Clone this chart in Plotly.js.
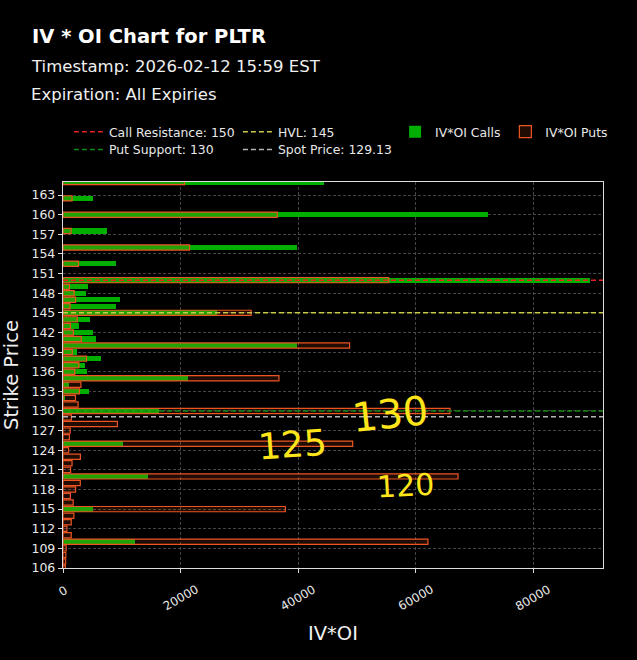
<!DOCTYPE html>
<html>
<head>
<meta charset="utf-8">
<script src="https://cdn.plot.ly/plotly-3.0.1.min.js"></script>
<style>
  html, body { margin: 0; padding: 0; background: #000; }
  #chart { width: 637px; height: 660px; }
</style>
</head>
<body>
<div id="chart"></div>
<script>
// ---- data ----
const strikes = [165, 162.5, 160, 157.5, 155, 152.5, 150, 149, 148, 147, 146, 145, 144, 143, 142, 141, 140, 139, 138, 137, 136, 135, 134, 133, 132, 131, 130, 129, 128, 127, 126, 125, 124, 123, 122, 121, 120, 119, 118, 117, 116, 115, 114, 113, 112, 111, 110, 109, 108, 107, 106];
const callIVOI = [44400, 5130, 72360, 7410, 39890, 8950, 89720, 4300, 3880, 9690, 9000, 26210, 4650, 2650, 5100, 5560, 39890, 2320, 6520, 3680, 4030, 21260, 1100, 4380, 400, 0, 16380, 0, 0, 0, 0, 10200, 0, 0, 0, 0, 14500, 0, 0, 0, 0, 5130, 0, 0, 0, 0, 12220, 0, 0, 0, 0];
const putIVOI = [20680, 1540, 36470, 1370, 21530, 2630, 55440, 1100, 1900, 2150, 1200, 32020, 2420, 1260, 1770, 3110, 48770, 1570, 4000, 2700, 2000, 36750, 3050, 2800, 2120, 2570, 65860, 1430, 9260, 1230, 1080, 49300, 950, 2960, 1540, 1290, 67230, 2940, 2150, 1260, 1740, 37840, 1850, 1400, 660, 1400, 62100, 550, 480, 450, 400];

const levelNames = ["Call Resistance: 150", "Put Support: 130", "HVL: 145", "Spot Price: 129.13"];
const levelValues = [150, 130, 145, 129.13];
const levelColors = ["#e62222", "#138a13", "#c8c84a", "#b4b4b4"];

const xTickVals = [0, 20000, 40000, 60000, 80000];
const xTickText = ["0", "20000", "40000", "60000", "80000"];

const titleText = "IV * OI Chart for PLTR";
const subtitle1 = "Timestamp: 2026-02-12 15:59 EST";
const subtitle2 = "Expiration: All Expiries";
const handNotes = ["130", "125", "120"];

// ---- chart ----
const FONT = "DejaVu Sans";
const traces = [];

traces.push({
  type: "bar", orientation: "h", name: "IV*OI Calls",
  y: strikes, x: callIVOI, width: 0.8,
  marker: { color: "rgb(0,175,0)", line: { width: 0 } },
  legend: "legend5", hoverinfo: "skip"
});
traces.push({
  type: "bar", orientation: "h", name: "IV*OI Puts",
  y: strikes, x: putIVOI, width: 0.8,
  marker: { color: "rgba(255,90,20,0.13)", line: { color: "rgb(235,85,35)", width: 1.2 } },
  legend: "legend5", hoverinfo: "skip"
});

// legend slots for the four level lines: CR, PS (column 1), HVL, Spot (column 2)
const levelLegends = ["legend", "legend2", "legend3", "legend4"];
const shapes = [];
for (let i = 0; i < levelNames.length; i++) {
  traces.push({
    type: "scatter", mode: "lines", name: levelNames[i],
    x: [null], y: [null],
    line: { color: levelColors[i], width: 1.5, dash: "5px,3px" },
    legend: levelLegends[i], showlegend: true
  });
  shapes.push({
    type: "line", xref: "paper", x0: 0, x1: 1, yref: "y",
    y0: levelValues[i], y1: levelValues[i], layer: "above",
    line: { color: levelColors[i], width: 1.5, dash: "5px,3px" }
  });
}

const annotations = [];
annotations.push({ xref: "paper", yref: "paper", x: -0.063, y: 1.298, xanchor: "left", yanchor: "middle",
  text: subtitle1, showarrow: false, font: { family: FONT, size: 16.5, color: "#f0f0f0" } });
annotations.push({ xref: "paper", yref: "paper", x: -0.063, y: 1.226, xanchor: "left", yanchor: "middle",
  text: subtitle2, showarrow: false, font: { family: FONT, size: 16.5, color: "#f0f0f0" } });
for (let i = 0; i < xTickVals.length; i++) {
  annotations.push({ xref: "x", yref: "paper", x: xTickVals[i], y: -0.031, xanchor: "center", yanchor: "top",
    text: xTickText[i], textangle: -30, showarrow: false, font: { family: FONT, size: 12, color: "#e8e8e8" } });
}
const notePos = [[0.606, 0.40, 40, -6], [0.425, 0.32, 36, -4], [0.634, 0.215, 30, -3]];
for (let i = 0; i < handNotes.length; i++) {
  annotations.push({ xref: "paper", yref: "paper", x: notePos[i][0], y: notePos[i][1], xanchor: "center", yanchor: "middle",
    text: handNotes[i], textangle: notePos[i][3], showarrow: false, font: { family: FONT, size: notePos[i][2], color: "#ffe61a" } });
}

const legendBase = { font: { family: FONT, size: 12.4, color: "#e8e8e8" }, bgcolor: "rgba(0,0,0,0)",
  borderwidth: 0, xanchor: "left", yanchor: "top", tracegroupgap: 0, orientation: "v" };
const row1 = 1.168, row2 = 1.1218;

const layout = {
  width: 637, height: 660,
  paper_bgcolor: "#000", plot_bgcolor: "#000",
  margin: { l: 63, r: 34, t: 182, b: 92, pad: 0 },
  barmode: "overlay", bargap: 0,
  title: { text: "<b>" + titleText + "</b>", x: 32 / 637, xanchor: "left", xref: "container",
    y: 1 - 36 / 660, yanchor: "middle", yref: "container",
    font: { family: FONT, size: 19.5, color: "#ffffff" } },
  font: { family: FONT, color: "#e8e8e8" },
  xaxis: {
    range: [0, 91900], showticklabels: false, tickvals: xTickVals,
    ticks: "outside", ticklen: 4, tickcolor: "#dddddd",
    showgrid: true, gridcolor: "#555555", griddash: "3px,2px", gridwidth: 0.8,
    zeroline: false, showline: true, mirror: true, linecolor: "#dddddd", linewidth: 1.2,
    title: { text: "IV*OI", font: { family: FONT, size: 19.5, color: "#f0f0f0" }, standoff: 54 }
  },
  yaxis: {
    range: [106, 165], tick0: 106, dtick: 3,
    ticks: "outside", ticklen: 4, tickcolor: "#dddddd",
    tickfont: { family: FONT, size: 12.5, color: "#e8e8e8" },
    showgrid: true, gridcolor: "#555555", griddash: "3px,2px", gridwidth: 0.8,
    zeroline: false, showline: true, mirror: true, linecolor: "#dddddd", linewidth: 1.2,
    title: { text: "Strike Price", font: { family: FONT, size: 19.5, color: "#f0f0f0" }, standoff: 10 }
  },
  legend: Object.assign({}, legendBase, { x: 0.011, y: row1 }),
  legend2: Object.assign({}, legendBase, { x: 0.011, y: row2 }),
  legend3: Object.assign({}, legendBase, { x: 0.324, y: row1 }),
  legend4: Object.assign({}, legendBase, { x: 0.324, y: row2 }),
  legend5: Object.assign({}, legendBase, { x: 0.615, y: row1, orientation: "h" }),
  shapes: shapes,
  annotations: annotations,
  showlegend: true
};

Plotly.newPlot("chart", traces, layout, { staticPlot: true, displayModeBar: false });
</script>
</body>
</html>
